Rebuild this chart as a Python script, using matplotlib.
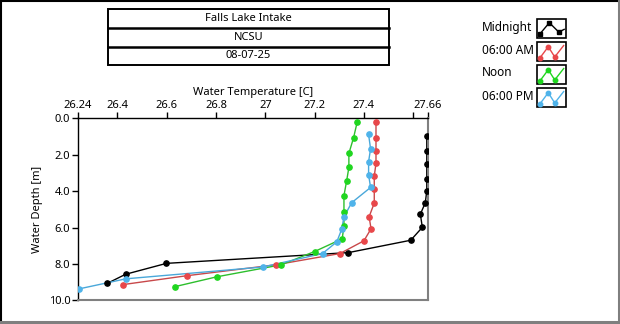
import matplotlib
matplotlib.use("Agg")
import matplotlib.pyplot as plt
from matplotlib.patches import Rectangle
from matplotlib.lines import Line2D

plt.rcParams['font.family'] = ['Noto Sans', 'DejaVu Sans']

# ---- data ----
midnight_temp = [27.655, 27.655, 27.655, 27.655, 27.655, 27.649, 27.629, 27.637, 27.590, 27.337, 26.599, 26.433, 26.359]
midnight_depth = [0.97, 1.80, 2.49, 3.35, 3.99, 4.64, 5.27, 5.99, 6.70, 7.38, 7.97, 8.57, 9.07]

am_temp = [27.449, 27.449, 27.449, 27.449, 27.442, 27.442, 27.442, 27.421, 27.429, 27.400, 27.303, 27.042, 26.681, 26.421]
am_depth = [0.19, 1.07, 1.79, 2.48, 3.17, 3.87, 4.66, 5.41, 6.07, 6.73, 7.43, 8.05, 8.65, 9.14]

noon_temp = [27.373, 27.358, 27.339, 27.339, 27.330, 27.319, 27.319, 27.319, 27.312, 27.200, 27.064, 26.803, 26.633]
noon_depth = [0.19, 1.07, 1.93, 2.70, 3.43, 4.25, 5.13, 5.91, 6.62, 7.32, 8.05, 8.71, 9.25]

pm_temp = [27.419, 27.427, 27.419, 27.419, 27.427, 27.350, 27.319, 27.310, 27.290, 27.232, 26.990, 26.434, 26.245]
pm_depth = [0.89, 1.68, 2.38, 3.10, 3.80, 4.64, 5.42, 6.09, 6.79, 7.43, 8.17, 8.82, 9.37]

x_ticks = [26.24, 26.4, 26.6, 26.8, 27.0, 27.2, 27.4, 27.6, 27.66]
x_tick_labels = ["26.24", "26.4", "26.6", "26.8", "27", "27.2", "27.4", "", "27.66"]
y_ticks = [0, 2, 4, 6, 8, 10]
y_tick_labels = ["0.0", "2.0", "4.0", "6.0", "8.0", "10.0"]

title_lines = ["Falls Lake Intake", "NCSU", "08-07-25"]
series_names = ["Midnight", "06:00 AM", "Noon", "06:00 PM"]
series_colors = ["#000000", "#E8474A", "#1FD61F", "#4FB3EA"]
line_colors = ["#000000", "#C8484A", "#2DBF2D", "#4AA8DA"]

W, H = 620, 324
fig = plt.figure(figsize=(W / 100, H / 100), dpi=100)

def fx(x):
    return x / W

def fy(y):
    return 1 - y / H

# outer frame
fig.add_artist(Line2D([fx(0.5), fx(619)], [fy(0.8), fy(0.8)], color="black", lw=1.5))
fig.add_artist(Line2D([fx(0.8), fx(0.8)], [fy(0), fy(322)], color="black", lw=1.5))
fig.add_artist(Line2D([fx(618.8), fx(618.8)], [fy(0), fy(324)], color="#7f7f7f", lw=2.2))
fig.add_artist(Line2D([fx(0), fx(620)], [fy(322), fy(322)], color="#7f7f7f", lw=2.2))

# title box
bx0, bx1 = 108, 389
rows = [9, 28, 47, 65]
fig.add_artist(Rectangle((fx(bx0), fy(rows[-1])), fx(bx1) - fx(bx0), fy(rows[0]) - fy(rows[-1]),
                         fill=False, ec="black", lw=1.4, transform=fig.transFigure))
for r in rows[1:-1]:
    fig.add_artist(Line2D([fx(bx0), fx(bx1)], [fy(r), fy(r)], color="black", lw=1.8))
for i, t in enumerate(title_lines):
    yc = (rows[i] + rows[i + 1]) / 2
    fig.text(fx((bx0 + bx1) / 2), fy(yc), t, ha="center", va="center", fontsize=8)

# main axes
ax_l, ax_r, ax_t, ax_b = 78, 428, 118.3, 300.3
ax = fig.add_axes([fx(ax_l), fy(ax_b), fx(ax_r) - fx(ax_l), fy(ax_t) - fy(ax_b)])

temps = [midnight_temp, am_temp, noon_temp, pm_temp]
depths = [midnight_depth, am_depth, noon_depth, pm_depth]
for i in range(4):
    ax.plot(temps[i], depths[i], color=line_colors[i], lw=1.0, zorder=2, clip_on=True)
    ax.plot(temps[i], depths[i], linestyle="none", marker="o", ms=3.8,
            color=series_colors[i], mec=series_colors[i], zorder=3, clip_on=True)

ax.set_xlim(26.24, 27.66)
ax.set_ylim(10, 0)
ax.xaxis.tick_top()
ax.xaxis.set_label_position("top")
ax.set_xticks(x_ticks)
ax.set_xticklabels(x_tick_labels)
ax.set_yticks(y_ticks)
ax.set_yticklabels(y_tick_labels)
ax.tick_params(axis="both", direction="out", length=4, width=1, labelsize=8, pad=1.5, colors="black")
ax.set_xlabel("Water Temperature [C]", fontsize=8, labelpad=3)
ax.set_ylabel("Water Depth [m]", fontsize=8, labelpad=4)
for s in ["top", "left"]:
    ax.spines[s].set_color("black")
    ax.spines[s].set_linewidth(1.0)
for s in ["right", "bottom"]:
    ax.spines[s].set_color("#808080")
    ax.spines[s].set_linewidth(1.5)

# legend
leg_label_x = 482
icon_x0, icon_x1 = 537, 566
icon_tops = [19, 42, 65, 88]
icon_h = 19
label_y = [28, 51, 73, 97]
icon_shapes = [
    ([0.07, 0.42, 0.77, 0.97], [0.18, 0.84, 0.29, 0.45], [0, 1, 2]),
    ([0.07, 0.38, 0.62, 0.95], [0.12, 0.78, 0.18, 0.85], [0, 1, 2]),
    ([0.07, 0.38, 0.62, 0.95], [0.12, 0.78, 0.18, 0.85], [0, 1, 2]),
    ([0.07, 0.38, 0.62, 0.95], [0.12, 0.78, 0.18, 0.85], [0, 1, 2]),
]
for i, name in enumerate(series_names):
    fig.text(fx(leg_label_x), fy(label_y[i]), name, ha="left", va="center", fontsize=8.5)
    top = icon_tops[i]
    fig.add_artist(Rectangle((fx(icon_x0), fy(top + icon_h)), fx(icon_x1) - fx(icon_x0),
                             fy(top) - fy(top + icon_h), fill=False, ec="black", lw=1.2,
                             transform=fig.transFigure))
    xs, ys, mk = icon_shapes[i]
    px = [fx(icon_x0 + 1 + u * (icon_x1 - icon_x0 - 2)) for u in xs]
    py = [fy(top + icon_h - 1 - v * (icon_h - 2)) for v in ys]
    fig.add_artist(Line2D(px, py, color=series_colors[i], lw=1.0))
    fig.add_artist(Line2D([px[k] for k in mk], [py[k] for k in mk], linestyle="none",
                          marker="s" if i == 0 else "o", ms=3.2, color=series_colors[i]))

fig.savefig("out.png", dpi=100)
